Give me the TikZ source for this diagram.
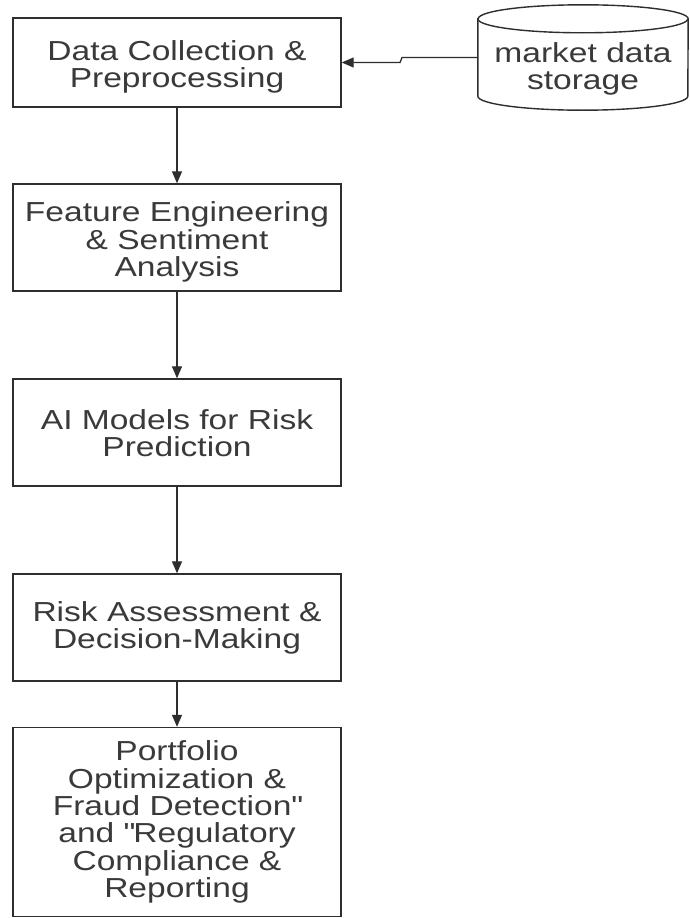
\documentclass[tikz,border=0pt]{standalone}
\usepackage{fontspec}
\setmainfont{Liberation Sans}[FakeStretch=1.22]
\usetikzlibrary{arrows.meta}
\definecolor{ink}{HTML}{2E2E2E}
\definecolor{txt}{HTML}{3A3A3A}
\newcommand\mytightlines{\lineskiplimit=-100pt\relax\lineskip=0pt\relax}
\begin{document}
\begin{tikzpicture}[x=1pt,y=-1pt,
  lbl/.style={text=txt, align=center, inner sep=0pt,
    font=\fontsize{27.5}{27.3}\selectfont\mytightlines},
  box/.style={draw=ink, line width=1.4pt, minimum width=328pt},
  arr/.style={draw=ink, line width=1.3pt, -{Triangle[length=12pt,width=10pt]}}]
\useasboundingbox (0,0) rectangle (689,918);
\fill[white] (0,0) rectangle (689,918);
\node[box, minimum height=89pt]  (b1) at (177,62.5) {};
\node[box, minimum height=107pt] (b2) at (177,237.5) {};
\node[box, minimum height=107pt] (b3) at (177,432.5) {};
\node[box, minimum height=107pt] (b4) at (177,627.5) {};
\node[box, minimum height=189pt] (b5) at (177,822) {};
\node[lbl] (t1) at (177,67) {Data Collection \&\\Preprocessing};
\node[lbl] (t2) at (177,242) {Feature Engineering\\\& Sentiment\\Analysis};
\node[lbl] (t3) at (177,433) {AI Models for Risk\\Prediction};
\node[lbl] (t4) at (177,628) {Risk Assessment \&\\Decision-Making};
\node[lbl] (t5) at (177,822) {Portfolio\\Optimization \&\\Fraud Detection\textquotedbl\\and \textquotedbl Regulatory\\Compliance \&\\Reporting};
% cylinder
\node[minimum width=210pt, minimum height=105pt, inner sep=0pt] (db) at (583,57.5) {};
\draw[ink, line width=1.4pt, fill=white]
  ([yshift=-14pt]db.north west) -- ([yshift=14pt]db.south west)
  arc[start angle=180, end angle=360, x radius=105pt, y radius=14pt]
  -- ([yshift=-14pt]db.north east)
  arc[start angle=0, end angle=180, x radius=105pt, y radius=14pt] -- cycle;
\draw[ink, line width=1.4pt] ([yshift=-14pt]db.north west)
  arc[start angle=180, end angle=360, x radius=105pt, y radius=14pt];
\node[lbl] (dbt) at (583,69) {market data\\storage};
% connectors
\coordinate (k1) at (402,57.5);
\coordinate (k2) at (400,62.5);
\draw[arr] (db.west) -- (k1) -- (k2) -- (b1.east);
\draw[arr] (b1.south) -- (b2.north);
\draw[arr] (b2.south) -- (b3.north);
\draw[arr] (b3.south) -- (b4.north);
\draw[arr] (b4.south) -- (b5.north);
\end{tikzpicture}
\end{document}
